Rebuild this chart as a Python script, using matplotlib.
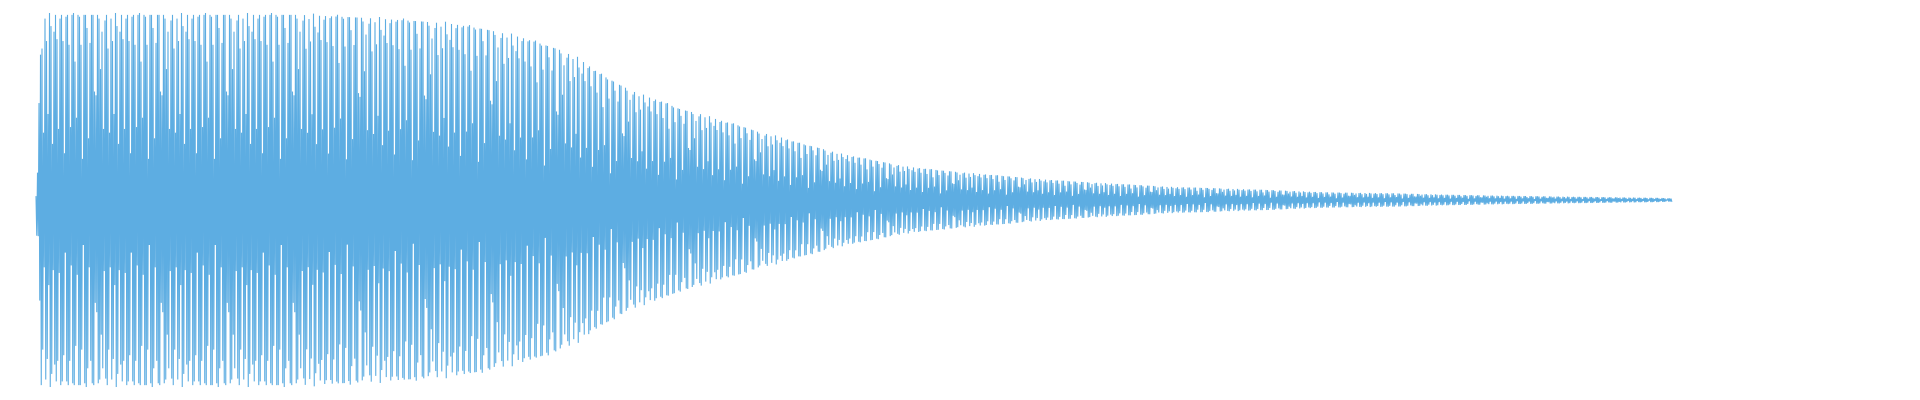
import numpy as np
import matplotlib
matplotlib.use("Agg")
import matplotlib.pyplot as plt

# ---- data ----
n_samples = 2182  # samples in the waveform (alternating positive / negative peaks)

# outer envelope of the waveform: sample index -> amplitude (fraction of full scale)
env_idx = [0, 1.3, 2.7, 4, 5.3, 6.7, 352, 432, 512, 556, 601, 645, 672, 699, 725, 752,
           779, 805, 832, 859, 885, 912, 939, 965, 992, 1019, 1045, 1072, 1116, 1161,
           1205, 1249, 1295, 1339, 1383, 1428, 1472, 1516, 1561, 1605, 1649, 1721, 1809,
           1899, 1988, 2076, 2165, 2181]
env_amp = [0.02, 0.27, 0.50, 0.54, 0.57, 1.00, 1.00, 0.985, 0.965, 0.95, 0.92, 0.88,
           0.845, 0.81, 0.76, 0.68, 0.62, 0.57, 0.535, 0.49, 0.465, 0.43, 0.40, 0.365,
           0.34, 0.305, 0.28, 0.25, 0.215, 0.18, 0.16, 0.144, 0.128, 0.112, 0.10, 0.09,
           0.08, 0.07, 0.065, 0.059, 0.053, 0.041, 0.036, 0.027, 0.021, 0.016, 0.011, 0.008]

# relative heights of successive positive / negative peaks (read from the start of the wave)
top_pattern = [0.90, 0.38, 0.96, 0.99, 0.81, 0.36, 0.97, 0.85, 0.46, 1.00, 0.93, 0.30,
               0.90, 0.99, 0.86, 0.38, 0.97, 0.99, 0.85, 0.25, 0.98, 0.99, 0.83, 0.39,
               0.99, 1.00, 0.74, 0.44, 0.99, 0.98, 0.83, 0.22, 0.99, 0.99, 0.92, 0.33,
               0.84, 0.99, 0.99, 0.58, 0.56, 0.99, 0.97, 0.70]
bottom_pattern = [0.90, 0.38, 0.955, 0.99, 0.80, 0.36, 0.96, 0.85, 0.455, 1.00, 0.93, 0.375,
                  0.88, 0.97, 0.86, 0.39, 0.99, 0.97, 0.83, 0.28, 0.97, 0.99, 0.86, 0.35,
                  0.98, 0.99, 0.78, 0.40, 0.99, 0.99, 0.80, 0.24, 0.98, 1.00, 0.90, 0.36,
                  0.86, 0.98, 0.99, 0.55, 0.60, 0.98, 0.96, 0.72]

# ---- build the sample series ----
k = np.arange(n_samples)
env = np.interp(k, env_idx, env_amp)
peak = k // 2
top = np.take(top_pattern, peak % len(top_pattern))
bot = np.take(bottom_pattern, peak % len(bottom_pattern))
signal = env * np.where(k % 2 == 0, top, -bot)

# ---- draw ----
fig = plt.figure(figsize=(19.2, 4), dpi=100)
ax = fig.add_axes([0, 0, 1, 1])
ax.plot(k, signal, color="#5DADE2", lw=0.78, solid_joinstyle="miter")
ax.set_xlim(-48, 2512)
ax.set_ylim(-1.0695, 1.0695)
ax.axis("off")
fig.savefig("out.png", dpi=100, facecolor="white")
